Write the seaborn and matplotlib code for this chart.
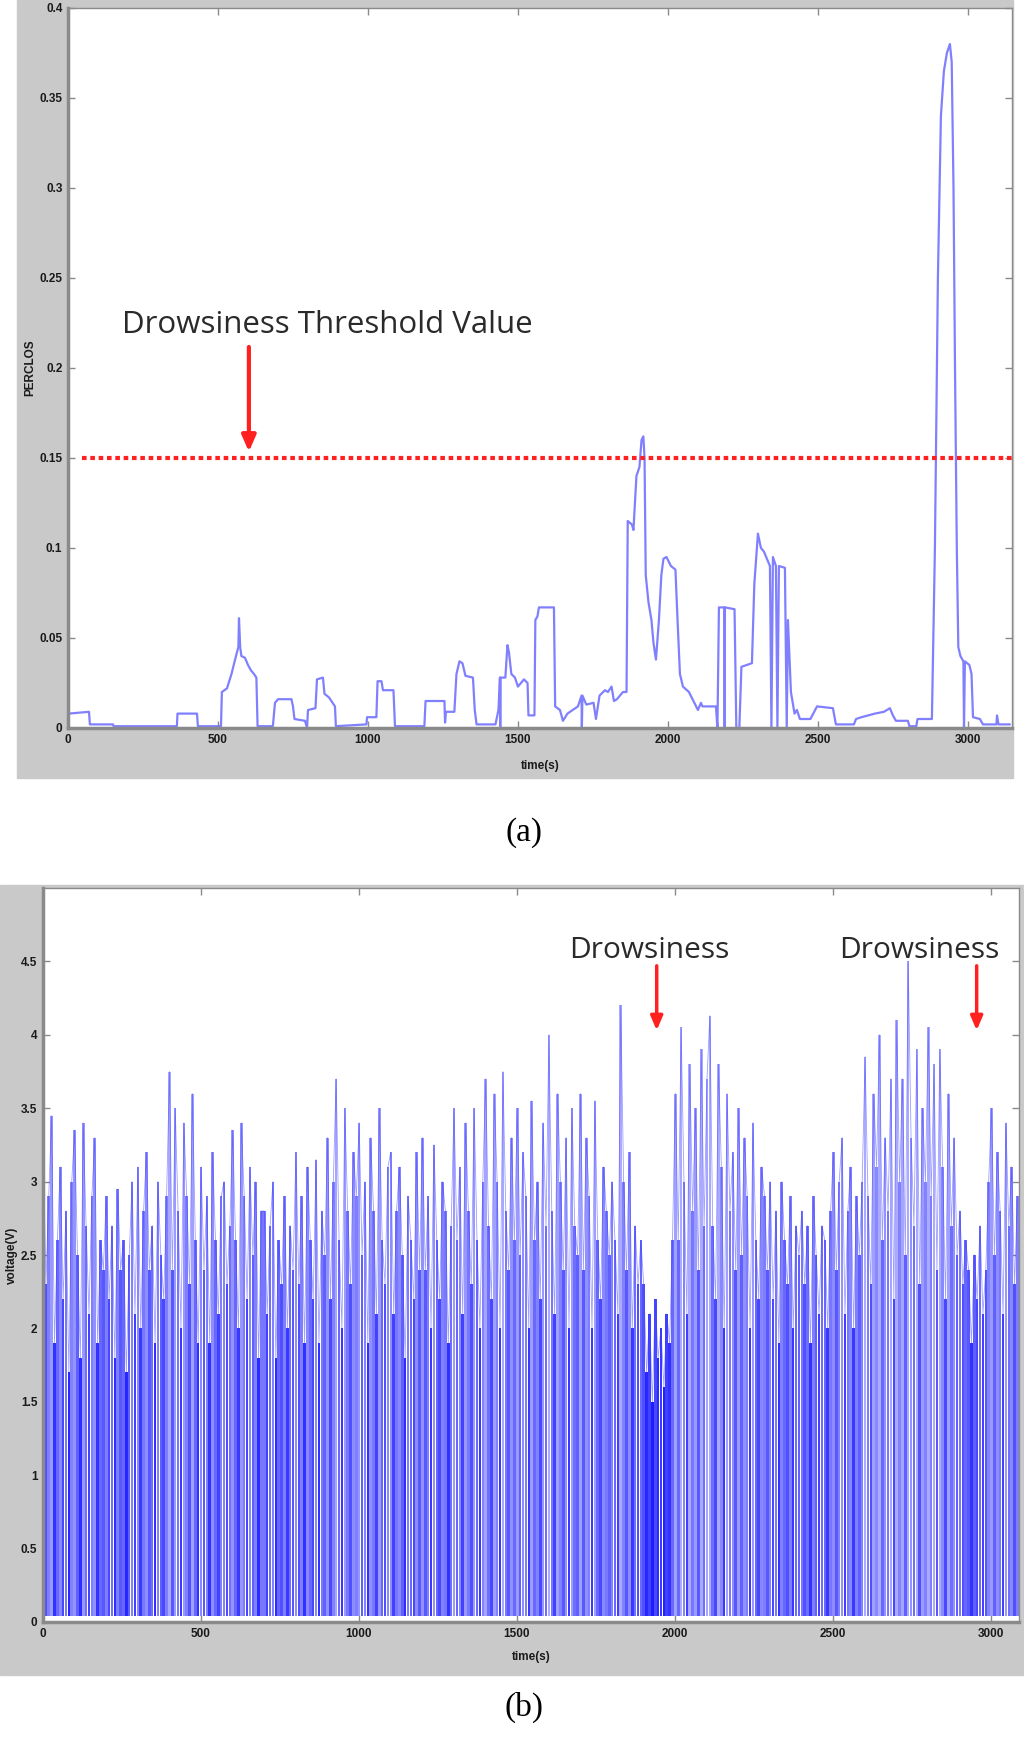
import numpy as np
import pandas as pd
import matplotlib
matplotlib.use("Agg")
import matplotlib.pyplot as plt
from matplotlib.patches import Rectangle
from matplotlib.colors import Normalize
from matplotlib import font_manager
import seaborn as sns

# ---------------- data ----------------
# (a) PERCLOS trace (time in s, PERCLOS value)
perclos_t = [0, 3, 70, 73, 150, 152, 363, 365, 430, 433, 510, 513, 530, 545, 560, 568, 570, 574, 578, 590,
             600, 610, 620, 628, 632, 683, 690, 700, 745, 750, 755, 790, 797, 800, 825, 830, 850, 855, 870, 890,
             893, 995, 997, 1028, 1032, 1045, 1050, 1085, 1090, 1188, 1192, 1255, 1257, 1260, 1288, 1295, 1305,
             1315, 1325, 1350, 1356, 1362, 1425, 1435, 1440, 1441, 1442, 1458, 1465, 1470, 1478, 1490, 1500,
             1520, 1532, 1535, 1555, 1558, 1565, 1570, 1620, 1624, 1640, 1650, 1665, 1700, 1712, 1713, 1715,
             1728, 1752, 1760, 1772, 1790, 1800, 1812, 1820, 1830, 1850, 1862, 1866, 1880, 1885, 1895, 1905,
             1912, 1918, 1922, 1926, 1935, 1945, 1952, 1960, 1970, 1978, 1985, 1995, 2010, 2025, 2032, 2040,
             2050, 2070, 2085, 2100, 2110, 2115, 2160, 2165, 2170, 2188, 2189, 2190, 2222, 2228, 2238, 2245,
             2280, 2288, 2300, 2310, 2320, 2340, 2345, 2350, 2360, 2365, 2370, 2390, 2396, 2400, 2410, 2422,
             2430, 2440, 2475, 2497, 2550, 2560, 2620, 2627, 2645, 2690, 2720, 2740, 2750, 2760, 2800, 2805,
             2828, 2832, 2880, 2890, 2900, 2910, 2920, 2930, 2940, 2946, 2952, 2957, 2963, 2968, 2975, 2985,
             2987, 2990, 3005, 3012, 3017, 3040, 3050, 3095, 3097, 3102, 3140]
perclos_v = [0.003, 0.008, 0.009, 0.002, 0.002, 0.001, 0.001, 0.008, 0.008, 0.001, 0.001, 0.020, 0.022,
             0.030, 0.040, 0.045, 0.061, 0.045, 0.040, 0.039, 0.035, 0.032, 0.030, 0.028, 0.001, 0.001, 0.014,
             0.016, 0.016, 0.012, 0.005, 0.004, 0.000, 0.010, 0.011, 0.027, 0.028, 0.019, 0.017, 0.012, 0.001,
             0.002, 0.006, 0.006, 0.026, 0.026, 0.021, 0.021, 0.001, 0.001, 0.015, 0.015, 0.003, 0.009, 0.009,
             0.030, 0.037, 0.036, 0.029, 0.028, 0.010, 0.002, 0.002, 0.010, 0.028, 0.000, 0.028, 0.028, 0.046,
             0.042, 0.030, 0.028, 0.023, 0.027, 0.025, 0.007, 0.007, 0.060, 0.062, 0.067, 0.067, 0.012, 0.010,
             0.004, 0.008, 0.012, 0.018, 0.000, 0.018, 0.013, 0.014, 0.005, 0.018, 0.021, 0.020, 0.023, 0.015,
             0.016, 0.020, 0.020, 0.115, 0.113, 0.110, 0.140, 0.145, 0.160, 0.162, 0.150, 0.085, 0.070, 0.060,
             0.047, 0.038, 0.060, 0.085, 0.094, 0.095, 0.090, 0.088, 0.060, 0.030, 0.023, 0.020, 0.015, 0.010,
             0.014, 0.012, 0.012, 0.000, 0.067, 0.067, 0.000, 0.067, 0.066, 0.000, 0.000, 0.034, 0.036, 0.080,
             0.108, 0.100, 0.098, 0.090, 0.000, 0.095, 0.090, 0.000, 0.090, 0.089, 0.000, 0.060, 0.020, 0.008,
             0.010, 0.005, 0.005, 0.012, 0.011, 0.002, 0.002, 0.005, 0.006, 0.008, 0.009, 0.011, 0.007, 0.004,
             0.004, 0.001, 0.001, 0.005, 0.005, 0.100, 0.250, 0.340, 0.365, 0.375, 0.380, 0.370, 0.300, 0.200,
             0.100, 0.045, 0.040, 0.037, 0.000, 0.037, 0.035, 0.030, 0.006, 0.005, 0.002, 0.002, 0.007, 0.002,
             0.002]
threshold_value = 0.15
threshold_start = 47

# (b) EEG voltage spike peaks, read per 100 s segment
voltage_peaks = [
    3.4, 2.3, 2.9, 3.45, 1.9, 2.6, 3.1, 2.2, 2.8, 1.7, 3.0,
    3.35, 2.5, 1.8, 3.4, 2.7, 2.1, 2.9, 3.3, 1.9, 2.6, 2.4,
    2.9, 2.2, 2.7, 1.8, 2.95, 2.4, 2.6, 1.7, 2.5, 3.0, 2.1,
    3.1, 2.0, 2.8, 3.2, 2.4, 2.7, 1.9, 3.0, 2.5, 2.2, 2.9,
    3.75, 2.4, 3.5, 2.8, 2.0, 3.4, 2.9, 2.3, 3.6, 2.6, 1.9,
    3.1, 2.4, 2.9, 1.9, 3.2, 2.6, 2.1, 2.9, 3.0, 2.3, 2.7,
    3.35, 2.6, 2.0, 3.4, 2.9, 2.2, 3.1, 2.5, 3.0, 1.8, 2.8,
    2.8, 2.1, 2.7, 3.0, 1.8, 2.6, 2.3, 2.9, 2.0, 2.7, 2.4,
    3.2, 2.3, 2.9, 1.9, 3.1, 2.6, 2.2, 3.15, 1.9, 2.8, 2.5,
    3.3, 2.2, 3.0, 3.7, 2.6, 2.0, 3.5, 2.8, 2.3, 3.2, 2.9,
    3.4, 2.5, 3.0, 1.9, 3.3, 2.8, 2.1, 3.5, 2.6, 2.3, 3.1,
    3.2, 2.1, 2.8, 3.1, 2.5, 1.8, 2.9, 2.6, 2.2, 3.2, 2.4,
    3.3, 2.4, 2.9, 2.0, 3.25, 2.6, 2.2, 3.0, 2.8, 1.9, 2.7,
    3.5, 2.6, 3.1, 2.1, 3.4, 2.8, 2.3, 3.5, 2.6, 2.0, 3.0,
    3.7, 2.7, 2.2, 3.6, 3.0, 2.0, 3.75, 2.8, 2.4, 3.3, 2.6,
    3.5, 2.5, 3.2, 2.9, 2.0, 3.55, 2.6, 3.0, 2.2, 3.4, 2.7,
    4.0, 2.8, 2.1, 3.6, 3.0, 2.4, 3.3, 2.0, 3.5, 2.7, 2.5,
    3.6, 2.4, 3.3, 2.9, 2.0, 3.55, 2.6, 2.2, 3.1, 2.8, 2.5,
    3.0, 2.6, 2.1, 4.2, 3.0, 2.4, 3.2, 2.0, 2.7, 2.3, 2.6,
    2.3, 1.7, 2.1, 1.5, 2.2, 1.8, 2.0, 1.6, 2.1, 1.9, 2.6,
    3.6, 2.6, 4.05, 3.0, 2.1, 3.8, 2.8, 3.5, 2.4, 3.9, 2.7,
    3.7, 4.13, 2.7, 2.2, 3.8, 3.1, 2.0, 3.6, 2.8, 3.2, 2.4,
    3.5, 2.5, 3.3, 2.9, 2.0, 3.4, 2.6, 2.2, 3.1, 2.9, 2.4,
    3.0, 2.2, 2.8, 1.9, 3.0, 2.6, 2.3, 2.9, 2.0, 2.7, 2.5,
    2.8, 2.3, 2.7, 1.9, 2.9, 2.5, 2.1, 2.7, 2.6, 2.0, 2.8,
    3.2, 2.4, 3.0, 3.3, 2.1, 2.8, 3.1, 2.0, 2.9, 2.5, 3.0,
    3.85, 2.9, 2.3, 3.6, 3.1, 4.0, 2.6, 3.3, 2.8, 3.7, 2.2,
    4.1, 3.0, 3.7, 2.5, 4.5, 3.3, 2.7, 3.9, 2.3, 3.5, 3.0,
    4.05, 2.9, 3.8, 2.4, 3.9, 3.1, 2.2, 3.6, 2.7, 3.3, 2.5,
    2.8, 2.3, 2.6, 2.4, 1.9, 2.5, 2.2, 2.7, 2.1, 2.4, 3.0,
    3.5, 2.5, 3.2, 2.8, 2.1, 3.4, 2.7, 3.1, 2.3, 2.9,
]
voltage_baseline = 0.04
voltage_t_end = 3085

top_xticks = [0, 500, 1000, 1500, 2000, 2500, 3000]
top_yticks = [0, 0.05, 0.1, 0.15, 0.2, 0.25, 0.3, 0.35, 0.4]
top_ytick_labels = ["0", "0.05", "0.1", "0.15", "0.2", "0.25", "0.3", "0.35", "0.4"]
bot_xticks = [0, 500, 1000, 1500, 2000, 2500, 3000]
bot_yticks = [0, 0.5, 1, 1.5, 2, 2.5, 3, 3.5, 4, 4.5]
bot_ytick_labels = ["0", "0.5", "1", "1.5", "2", "2.5", "3", "3.5", "4", "4.5"]

# ---------------- style ----------------
sns.set_theme(style="white")
plt.rcParams["font.family"] = ["Open Sans", "DejaVu Sans"]

installed = {f.name for f in font_manager.fontManager.ttflist}
narrow = "Liberation Sans Narrow" if "Liberation Sans Narrow" in installed else "Liberation Sans"
TICK_FAMILY = [narrow, "DejaVu Sans"]

W, H = 1024, 1748
fig = plt.figure(figsize=(W / 100, H / 100), dpi=100)
fig.patch.set_facecolor("white")

FRAME = "#c9c9c9"
fig.patches.append(Rectangle((17 / W, 1 - 778 / H), (1013 - 17) / W, 778 / H,
                             transform=fig.transFigure, color=FRAME, zorder=-10))
fig.patches.append(Rectangle((0, 1 - 1675 / H), 1.0, (1675 - 885) / H,
                             transform=fig.transFigure, color=FRAME, zorder=-10))

def box(l, t, r, b):
    return [l / W, 1 - b / H, (r - l) / W, (b - t) / H]

ax1 = fig.add_axes(box(68, 8, 1012, 728))
ax2 = fig.add_axes(box(43, 888, 1019, 1622))
ax1.set_zorder(5)
ax2.set_zorder(5)

TICK_SIZE = 8.5

def style_axes(ax):
    ax.set_facecolor("white")
    for s in ax.spines.values():
        s.set_color("#8a8a8a")
        s.set_linewidth(1.0)
        s.set_visible(True)
        s.set_zorder(10)
    ax.spines["left"].set_linewidth(2.5)
    ax.spines["bottom"].set_linewidth(2.5)
    ax.tick_params(direction="in", length=5, width=1, color="#8a8a8a",
                   top=True, right=True, bottom=True, left=True, pad=4,
                   labelcolor="#1a1a1a")
    for lab in ax.get_xticklabels() + ax.get_yticklabels():
        lab.set_fontfamily(TICK_FAMILY)
        lab.set_fontweight("bold")
        lab.set_fontsize(TICK_SIZE)
    ax.grid(False)

# ---------------- panel (a) ----------------
df_a = pd.DataFrame({"t": perclos_t, "v": perclos_v})
sns.lineplot(data=df_a, x="t", y="v", ax=ax1, estimator=None, sort=False,
             color="#6a6aff", linewidth=1.6, alpha=0.85)
ax1.plot([threshold_start, 3147], [threshold_value, threshold_value],
         color="#ff2020", linewidth=3, linestyle=(0, (1.1, 0.9)), zorder=5)
ax1.set_xlim(0, 3147)
ax1.set_ylim(0, 0.4)
ax1.set_xticks(top_xticks)
ax1.set_xticklabels([str(v) for v in top_xticks])
ax1.set_yticks(top_yticks)
ax1.set_yticklabels(top_ytick_labels)
ax1.set_xlabel("")
ax1.set_ylabel("")
style_axes(ax1)
ax1.text(180, 0.2194, "Drowsiness Threshold Value", fontsize=22.5, color="#2a2a2a",
         ha="left", va="baseline")
ax1.annotate("", xy=(603, 0.1535), xytext=(603, 0.2117),
             arrowprops=dict(arrowstyle="-|>,head_width=0.35,head_length=0.8",
                             color="#ff2020", lw=3, shrinkA=0, shrinkB=0))
fig.text(540 / W, 1 - 766 / H, "time(s)", ha="center", va="center",
         fontsize=TICK_SIZE, fontweight="bold", family=TICK_FAMILY, color="#1a1a1a")
fig.text(30 / W, 1 - 368 / H, "PERCLOS", ha="center", va="center", rotation=90,
         fontsize=TICK_SIZE, fontweight="bold", family=TICK_FAMILY, color="#1a1a1a")

# ---------------- panel (b) ----------------
# dense spikes drawn as adjacent thin bars; taller (thinner) spikes rendered lighter,
# mimicking the anti-aliased look of the dense original trace
n = len(voltage_peaks)
t_peaks = np.linspace(0, voltage_t_end, n)
step = t_peaks[1] - t_peaks[0]
shade = sns.blend_palette(["#0000ff", "#3434ff", "#7c7cff", "#aaaaff"], as_cmap=True)
norm = Normalize(vmin=1.0, vmax=3.8)
bar_colors = [shade(norm(v)) for v in voltage_peaks]
ax2.bar(t_peaks, np.array(voltage_peaks) - voltage_baseline, bottom=voltage_baseline,
        width=step * 0.88, color=bar_colors, linewidth=0, align="center")
# thin trace on top of the bars so the spikes keep a line-like edge
df_b = pd.DataFrame({"t": t_peaks, "v": voltage_peaks})
sns.lineplot(data=df_b, x="t", y="v", ax=ax2, estimator=None, sort=False,
             color="#3c3cff", linewidth=0.6, alpha=0.5)
ax2.set_xlim(0, 3090)
ax2.set_ylim(0, 5)
ax2.set_xticks(bot_xticks)
ax2.set_xticklabels([str(v) for v in bot_xticks])
ax2.set_yticks(bot_yticks)
ax2.set_yticklabels(bot_ytick_labels)
ax2.set_xlabel("")
ax2.set_ylabel("")
style_axes(ax2)
for tx, ax_ in [(1666, 1943), (2519, 2956)]:
    ax2.text(tx, 4.523, "Drowsiness", fontsize=21.5, color="#2a2a2a", ha="left", va="baseline")
    ax2.annotate("", xy=(ax_, 4.03), xytext=(ax_, 4.47),
                 arrowprops=dict(arrowstyle="-|>,head_width=0.3,head_length=0.7",
                                 color="#ff2020", lw=2.5, shrinkA=0, shrinkB=0))
fig.text(531 / W, 1 - 1657 / H, "time(s)", ha="center", va="center",
         fontsize=TICK_SIZE, fontweight="bold", family=TICK_FAMILY, color="#1a1a1a")
fig.text(12 / W, 1 - 1255 / H, "voltage(V)", ha="center", va="center", rotation=90,
         fontsize=TICK_SIZE, fontweight="bold", family=TICK_FAMILY, color="#1a1a1a")

# panel captions
fig.text(524 / W, 1 - 833 / H, "(a)", ha="center", va="center", fontsize=24,
         family=["Liberation Serif", "DejaVu Serif"], color="black")
fig.text(524 / W, 1 - 1707 / H, "(b)", ha="center", va="center", fontsize=24,
         family=["Liberation Serif", "DejaVu Serif"], color="black")

fig.savefig("out.png", dpi=100)
